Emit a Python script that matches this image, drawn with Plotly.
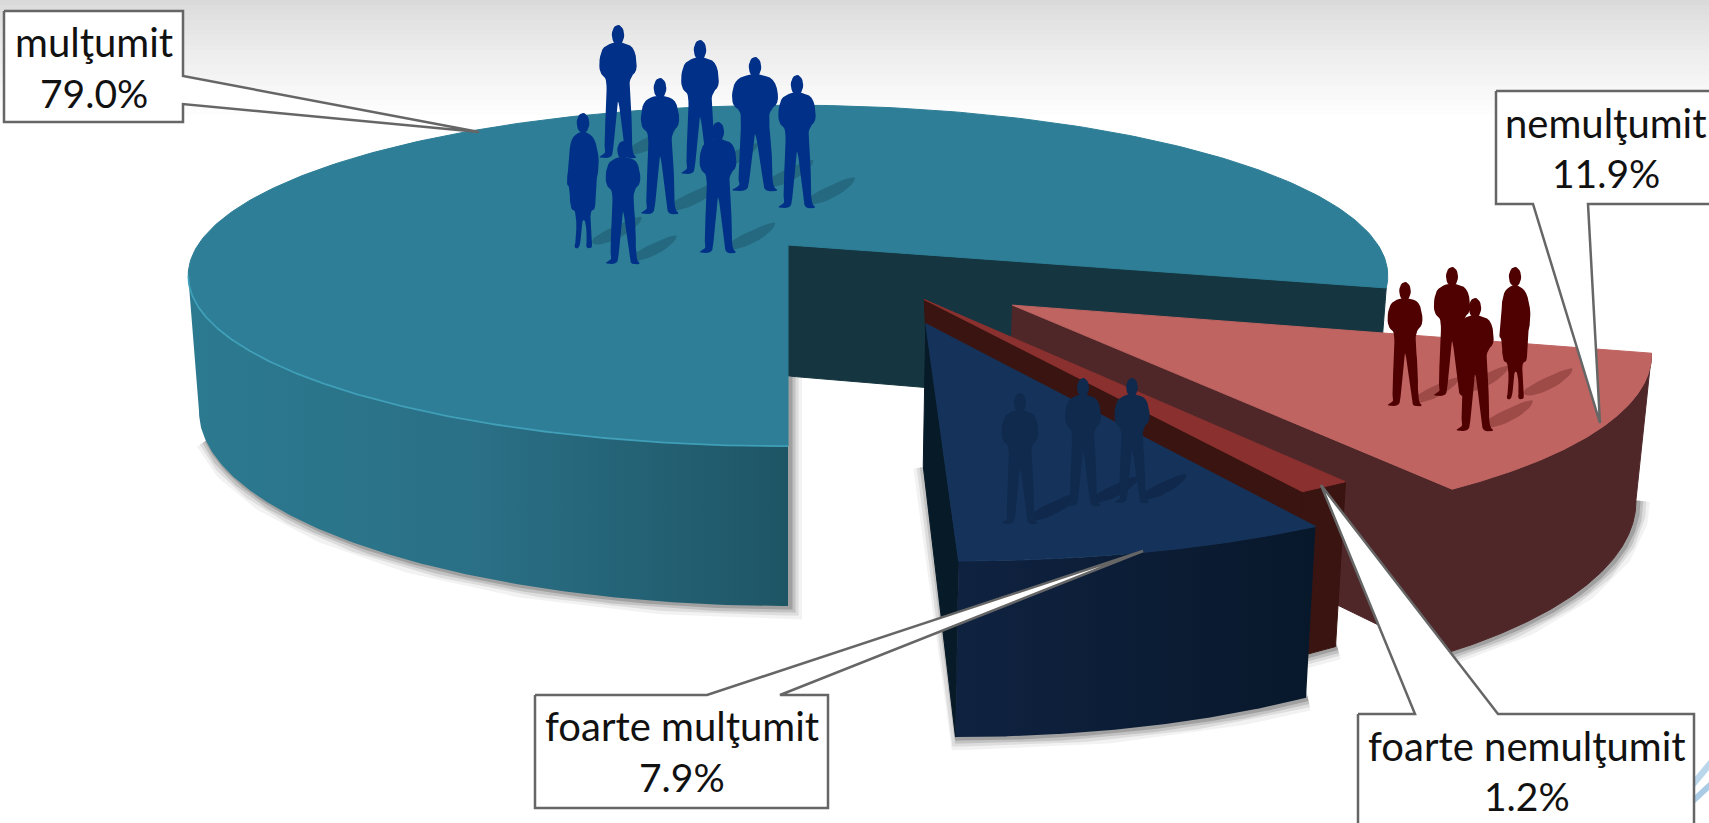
import math
import plotly.graph_objects as go

# ---- data ----
categories = ["mulţumit", "nemulţumit", "foarte nemulţumit", "foarte mulţumit"]
values = [79.0, 11.9, 1.2, 7.9]

# ---- styling / layout of the exploded 3-D pie ----
W, H = 1709, 823
START = -90.0
CX, CY, RX, RY, K = 788, 245, 590, 165, 0.18
DEPTH, SHRINK = 131, 0.982
EXPLODE = {"mulţumit": (0, 0), "nemulţumit": (0.357, -0.342),
           "foarte nemulţumit": (0.218, -0.312), "foarte mulţumit": (0.215, -0.439)}
RADIUS = {"mulţumit": 1.0, "nemulţumit": 0.983, "foarte nemulţumit": 0.985, "foarte mulţumit": 0.985}
TEXT = "#111111"
EDGE = "#666666"
LEFT_TANGENT = -180 + math.degrees(math.asin(K))

fig = go.Figure()


def project(X, Y):
    w = 1 + K * Y
    return CX + RX * X / w, CY - RY * Y / w, w


def bottom(X, Y):
    x, y, w = project(X, Y)
    return CX + (x - CX) * SHRINK, y + DEPTH / w


def poly(pts, color=None, grad=None, line=None, lw=0):
    xs = [p[0] if p else None for p in pts]
    ys = [p[1] if p else None for p in pts]
    if xs[-1] is not None:
        xs.append(xs[0]); ys.append(ys[0])
    kw = dict(fillcolor=color) if color else {}
    if grad:
        kw["fillgradient"] = dict(type="horizontal", colorscale=grad)
    fig.add_trace(go.Scatter(x=xs, y=ys, mode="lines", fill="toself", hoverinfo="skip",
                             showlegend=False, line=dict(width=lw, color=line or "rgba(0,0,0,0)"), **kw))


def solid(pts, color):
    poly(pts, color, line=color, lw=1)


def stroke(pts, color, lw):
    fig.add_trace(go.Scatter(x=[p[0] for p in pts], y=[p[1] for p in pts], mode="lines",
                             hoverinfo="skip", showlegend=False, line=dict(width=lw, color=color)))


# slice angles (clockwise from 6 o'clock)
angles = {}
a = START
for c, v in zip(categories, values):
    a2 = a - v * 3.6
    angles[c] = (a, a2)
    a = a2


def arc(c, a0, a1, n=160, fn=project):
    ex, ey = EXPLODE[c]
    r = RADIUS[c]
    out = []
    for i in range(n + 1):
        t = math.radians(a0 + (a1 - a0) * i / n)
        out.append(fn(ex + r * math.cos(t), ey + r * math.sin(t))[:2])
    return out


def apex(c, fn=project):
    return fn(*EXPLODE[c])[:2]


def wall(c, a0, a1):
    return arc(c, a0, a1) + arc(c, a1, a0, fn=bottom)


def side(c, ang):
    t = math.radians(ang)
    ex, ey = EXPLODE[c]
    r = RADIUS[c]
    P = (ex + r * math.cos(t), ey + r * math.sin(t))
    return [apex(c), project(*P)[:2], bottom(*P), apex(c, bottom)]


# top band of the slide
for i in range(24):
    y0 = i * 5
    g = int(218 + (255 - 218) * min(1, (i / 23)) ** 0.8)
    poly([(0, y0), (W, y0), (W, y0 + 5.5), (0, y0 + 5.5)], f"rgb({g},{g},{g})")

# soft shadows follow the lower rims and the outer cut edges
T, R, F, N = categories[0], categories[1], categories[2], categories[3]
sh = [
    arc(T, LEFT_TANGENT + 8, -90, fn=bottom) + [apex(T, bottom)],
    arc(R, angles[R][1], angles[R][0], fn=bottom),
    arc(F, angles[F][1], angles[F][0], fn=bottom),
    [apex(N, bottom)] + arc(N, angles[N][1], angles[N][0], fn=bottom),
]
for lw, al in ((24, 0.06), (17, 0.10), (11, 0.15), (5, 0.22)):
    for s in sh:
        stroke([(p[0] + 2, p[1] + 1) for p in s], f"rgba(40,40,40,{al})", lw)


def chaikin(pts, n=2):
    for _ in range(n):
        out = []
        m = len(pts)
        for i in range(m):
            p, q = pts[i], pts[(i + 1) % m]
            out.append((.75 * p[0] + .25 * q[0], .75 * p[1] + .25 * q[1]))
            out.append((.25 * p[0] + .75 * q[0], .25 * p[1] + .75 * q[1]))
        pts = out
    return pts


MAN = [(-.035, .87), (-.12, .83), (-.145, .72), (-.135, .63), (-.09, .60), (-.085, .5), (-.095, .3), (-.105, .08),
       (-.09, .03), (-.16, -.005), (-.05, -.01), (-.035, .06), (-.012, .35), (0, .44), (.015, .35), (.05, .06), (.06, -.01),
       (.15, -.01), (.105, .03), (.105, .3), (.085, .5), (.09, .60), (.15, .66), (.125, .83), (.035, .87)]
WOMAN = [(-.03, .86), (-.095, .80), (-.105, .62), (-.125, .47), (-.10, .45), (-.095, .28), (-.05, .27), (-.05, .05),
         (-.07, -.01), (-.02, -.01), (-.01, .2), (.02, .2), (.03, .05), (.02, -.01), (.07, -.01), (.065, .05), (.05, .27),
         (.095, .28), (.09, .45), (.125, .62), (.095, .80), (.03, .86)]


def people(group, color, shadow):
    for x, y, h, kind in group:
        tx, ty = x + 0.08 * h, y - 0.01 * h
        t = chaikin([(0, 0), (.14, -.03), (.30, -.12), (.38, -.22), (.30, -.21), (.10, -.12), (-.02, -.05)])
        poly([(tx + dx * h, ty + dy * h) for dx, dy in t], shadow)
    for x, y, h, kind in group:
        body = WOMAN if kind == "w" else MAN
        scale = 1.22 if kind == "b" else 1.0
        pts = chaikin([(x + u * h * scale, y - v * h) for u, v in body])
        pts.append(pts[0])
        pts.append(None)
        for i in range(25):
            t = 2 * math.pi * i / 24
            pts.append((x + .047 * h * math.cos(t), y - (.925 + .075 * math.sin(t)) * h))
        poly(pts, color)


# mulţumit slice
a0, a1 = angles[T]
solid(side(T, a1), "#153640")
poly(wall(T, LEFT_TANGENT, -90), grad=[[0, "#2c7a90"], [0.5, "#2a6f85"], [1, "#1e5565"]])
solid([apex(T)] + arc(T, a0, a1, n=300), "#2d7e96")
stroke(arc(T, LEFT_TANGENT, -90), "rgba(70,170,195,0.75)", 1.8)
people([(583, 247, 134, "w"), (618, 157, 132, "m"), (700, 173, 133, "m"), (660, 213, 135, "m"),
        (755, 190, 133, "b"), (797, 207, 132, "m"), (623, 263, 122, "m"), (718, 252, 130, "m")], "#003087",
       "rgba(10,30,50,0.22)")

# nemulţumit slice
a0, a1 = angles[R]
solid(side(R, a1), "#4f2729")
solid(wall(R, a0, a1), "#4f2729")
solid([apex(R)] + arc(R, a0, a1), "#bf6461")
people([(1405, 405, 123, "m"), (1452, 395, 128, "m"), (1515, 398, 131, "w"), (1475, 430, 132, "m")], "#4f0000",
       "rgba(60,0,0,0.25)")

# foarte nemulţumit slice
a0, a1 = angles[F]
f_side = side(F, a1)
f_side[3] = (f_side[3][0] + 8, f_side[3][1] - 4)
solid(f_side, "#3a1410")
solid(wall(F, a0, a1), "#3a1410")
solid([apex(F)] + arc(F, a0, a1), "#8a302f")

# foarte mulţumit slice
a0, a1 = angles[N]
solid(side(N, a1), "#071a28")
poly(wall(N, a0, a1), grad=[[0, "#0f2240"], [1, "#08182b"]])
solid([apex(N)] + arc(N, a0, a1), "#15335a")
people([(1020, 523, 130, "m"), (1083, 505, 127, "m"), (1132, 502, 124, "m")], "#0f2a4d", "rgba(5,20,45,0.32)")

# small corner of the next graphic
poly([(1694, 778), (1709, 760), (1709, 770), (1694, 788)], "#b9d6ea")
poly([(1694, 796), (1709, 782), (1709, 790), (1694, 804)], "#a9cbe6")

# label call-outs
boxes = {
    "mulţumit": [(4, 11), (183, 11), (183, 76), (479, 132), (183, 104), (183, 122), (4, 122)],
    "nemulţumit": [(1496, 91), (1720, 91), (1720, 204), (1588, 204), (1600, 423), (1533, 204), (1496, 204)],
    "foarte nemulţumit": [(1358, 714), (1415, 714), (1321, 485), (1498, 714), (1694, 714), (1694, 840), (1358, 840)],
    "foarte mulţumit": [(535, 695), (707, 695), (1143, 551), (780, 695), (828, 695), (828, 808), (535, 808)],
}
text_pos = {
    "mulţumit": (94, 42, 93), "nemulţumit": (1606, 123, 173),
    "foarte nemulţumit": (1527, 746, 796), "foarte mulţumit": (682, 726, 777),
}
for c, v in zip(categories, values):
    poly(boxes[c], "white", line=EDGE, lw=2.5)
    x, y1, y2 = text_pos[c]
    for yy, s, fs in ((y1, c, 40), (y2, f"{v:.1f}%", 39)):
        fig.add_annotation(x=x, y=yy, text=s, showarrow=False, xanchor="center", yanchor="middle",
                           font=dict(family="Lato", size=fs, color=TEXT))

fig.update_layout(width=W, height=H, margin=dict(l=0, r=0, t=0, b=0), plot_bgcolor="white", paper_bgcolor="white",
                  showlegend=False,
                  xaxis=dict(range=[0, W], visible=False, fixedrange=True),
                  yaxis=dict(range=[H, 0], visible=False, fixedrange=True))
fig.write_html("out.html", config={"displayModeBar": False},
               post_script="document.body.style.margin='0';document.body.style.overflow='hidden';")
